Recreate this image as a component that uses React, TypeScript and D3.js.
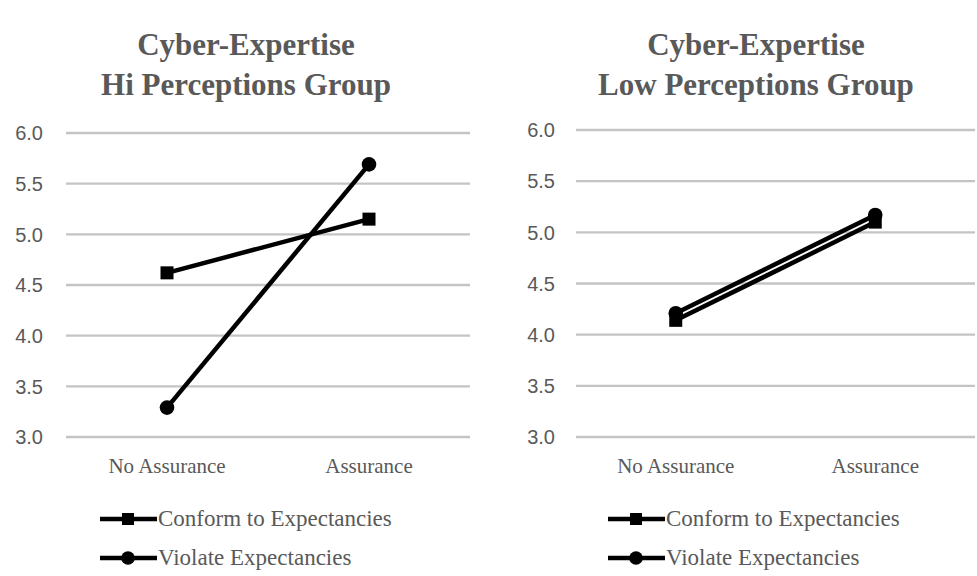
import React from "react";
import * as d3 from "d3";

const categories = ["No Assurance", "Assurance"];
const seriesNames = ["Conform to Expectancies", "Violate Expectancies"];
const seriesMarkers = ["square", "circle"];
const yTicks = [3.0, 3.5, 4.0, 4.5, 5.0, 5.5, 6.0];

const hiConform = [4.62, 5.15];
const hiViolate = [3.29, 5.69];
const lowConform = [4.14, 5.1];
const lowViolate = [4.21, 5.17];

const panelTitles = [
  ["Cyber-Expertise", "Hi Perceptions Group"],
  ["Cyber-Expertise", "Low Perceptions Group"],
];

const panels = [
  {
    title: panelTitles[0],
    series: [hiConform, hiViolate],
    x0: 66, x1: 470, yTop: 133, yBot: 437,
    labelX: 43, titleX: 246, legendX: 100,
  },
  {
    title: panelTitles[1],
    series: [lowConform, lowViolate],
    x0: 576, x1: 975, yTop: 130, yBot: 437,
    labelX: 555, titleX: 756, legendX: 608,
  },
];

const GRAY = "#595959";

function Marker({ type, x, y, size }: { type: string; x: number; y: number; size: number }) {
  if (type === "square") {
    return <rect x={x - size / 2} y={y - size / 2} width={size} height={size} fill="#000" />;
  }
  return <circle cx={x} cy={y} r={size / 2 + 0.8} fill="#000" />;
}

function Panel({ p }: { p: (typeof panels)[number] }) {
  const x = d3.scalePoint<string>().domain(categories).range([p.x0, p.x1]).padding(0.5);
  const y = d3.scaleLinear().domain([3, 6]).range([p.yBot, p.yTop]);
  const line = d3
    .line<number>()
    .x((_, i) => x(categories[i]) as number)
    .y((d) => y(d));
  return (
    <g>
      <text
        x={p.titleX}
        y={55}
        textAnchor="middle"
        fontFamily="'Liberation Serif', 'Times New Roman', serif"
        fontWeight="bold"
        fontSize={31}
        fill={GRAY}
      >
        {p.title[0]}
      </text>
      <text
        x={p.titleX}
        y={95}
        textAnchor="middle"
        fontFamily="'Liberation Serif', 'Times New Roman', serif"
        fontWeight="bold"
        fontSize={31}
        fill={GRAY}
      >
        {p.title[1]}
      </text>
      {yTicks.map((t) => (
        <g key={t}>
          <line x1={p.x0} x2={p.x1} y1={y(t)} y2={y(t)} stroke="#c4c4c4" strokeWidth={2.4} />
          <text
            x={p.labelX}
            y={y(t)}
            dy="0.36em"
            textAnchor="end"
            fontFamily="'Liberation Sans', Arial, sans-serif"
            fontSize={20}
            fill={GRAY}
          >
            {d3.format(".1f")(t)}
          </text>
        </g>
      ))}
      {categories.map((c) => (
        <text
          key={c}
          x={x(c)}
          y={473}
          textAnchor="middle"
          fontFamily="'Liberation Serif', 'Times New Roman', serif"
          fontSize={21}
          fill={GRAY}
        >
          {c}
        </text>
      ))}
      {p.series.map((s, si) => (
        <g key={si}>
          <path d={line(s) as string} fill="none" stroke="#000" strokeWidth={4.5} />
          {s.map((v, i) => (
            <Marker key={i} type={seriesMarkers[si]} x={x(categories[i]) as number} y={y(v)} size={13} />
          ))}
        </g>
      ))}
      {seriesNames.map((n, si) => {
        const ly = 519 + si * 39;
        return (
          <g key={n}>
            <line x1={p.legendX} x2={p.legendX + 57} y1={ly} y2={ly} stroke="#000" strokeWidth={4.5} />
            <Marker type={seriesMarkers[si]} x={p.legendX + 28} y={ly} size={12} />
            <text
              x={p.legendX + 58}
              y={ly + 7}
              fontFamily="'Liberation Serif', 'Times New Roman', serif"
              fontSize={23}
              fill={GRAY}
            >
              {n}
            </text>
          </g>
        );
      })}
    </g>
  );
}

export default function App() {
  return (
    <svg
      width={977}
      height={576}
      style={{ position: "absolute", left: 0, top: 0, background: "#fff" }}
    >
      <rect width={977} height={576} fill="#fff" />
      {panels.map((p, i) => (
        <Panel key={i} p={p} />
      ))}
    </svg>
  );
}
